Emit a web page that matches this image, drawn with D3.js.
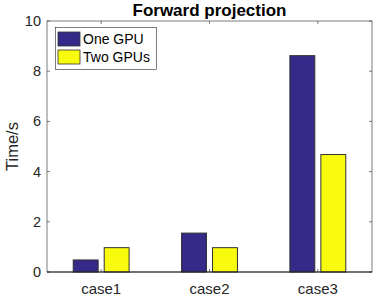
<!DOCTYPE html>
<html><head><meta charset="utf-8">
<script src="https://cdn.jsdelivr.net/npm/d3@7"></script>
<style>body{margin:0;background:#fff}svg{display:block}text{font-family:"Liberation Sans",Arial,sans-serif}</style>
</head><body>
<script>
const categories = ["case1","case2","case3"];
const seriesNames = ["One GPU","Two GPUs"];
const oneGPU = [0.48, 1.55, 8.62];
const twoGPUs = [0.97, 0.97, 4.68];
const yTicks = [0,2,4,6,8,10];
const colors = ["#352a87","#f9fb0e"];
const series = [oneGPU, twoGPUs];

const W=382,H=298;
const m={l:47,r:10,t:21,b:26};
const svg=d3.select("body").append("svg").attr("width",W).attr("height",H);
const x=d3.scaleLinear().domain([0.5,3.5]).range([m.l,W-m.r]);
const y=d3.scaleLinear().domain([0,10]).range([H-m.b,m.t]);
const bw=0.23, off=0.028+bw/2;

// bars
series.forEach((s,si)=>{
  svg.append("g").selectAll("rect").data(s).join("rect")
    .attr("x",(d,i)=>x(i+1+(si===0?-off:off)-bw/2))
    .attr("width",x(1+bw)-x(1))
    .attr("y",d=>y(d)).attr("height",d=>y(0)-y(d))
    .attr("fill",colors[si]).attr("stroke","#333").attr("stroke-width",1);
});

const ac="#262626";
// box
svg.append("rect").attr("x",x(0.5)).attr("y",y(10)).attr("width",x(3.5)-x(0.5)).attr("height",y(0)-y(10))
  .attr("fill","none").attr("stroke",ac).attr("stroke-width",0.6);
svg.append("line").attr("x1",x(0.5)).attr("x2",x(3.5)).attr("y1",y(0)).attr("y2",y(0)).attr("stroke",ac).attr("stroke-width",1);

// y ticks
const yt=svg.append("g");
yTicks.forEach(t=>{
  yt.append("line").attr("x1",x(0.5)).attr("x2",x(0.5)+3).attr("y1",y(t)).attr("y2",y(t)).attr("stroke",ac).attr("stroke-width",0.6);
  yt.append("line").attr("x1",x(3.5)).attr("x2",x(3.5)-3).attr("y1",y(t)).attr("y2",y(t)).attr("stroke",ac).attr("stroke-width",0.6);
  yt.append("text").attr("x",x(0.5)-6).attr("y",y(t)).attr("dy","0.35em").attr("text-anchor","end")
    .attr("font-size",14.5).attr("fill",ac).text(t);
});
// x ticks
categories.forEach((c,i)=>{
  svg.append("line").attr("x1",x(i+1)).attr("x2",x(i+1)).attr("y1",y(0)).attr("y2",y(0)-3).attr("stroke",ac).attr("stroke-width",0.6);
  svg.append("line").attr("x1",x(i+1)).attr("x2",x(i+1)).attr("y1",y(10)).attr("y2",y(10)+3).attr("stroke",ac).attr("stroke-width",0.6);
  svg.append("text").attr("x",x(i+1)).attr("y",y(0)+22).attr("text-anchor","middle")
    .attr("font-size",15).attr("fill",ac).text(c);
});

// y label
svg.append("text").attr("transform",`translate(18,${(y(0)+y(10))/2}) rotate(-90)`).attr("text-anchor","middle")
  .attr("font-size",16.5).attr("fill",ac).text("Time/s");
// title
svg.append("text").attr("x",(x(0.5)+x(3.5))/2).attr("y",15.5).attr("text-anchor","middle")
  .attr("font-size",17).attr("font-weight","bold").attr("fill","#000").text("Forward projection");

// legend
const lg=svg.append("g");
lg.append("rect").attr("x",55.5).attr("y",27.5).attr("width",101).attr("height",42).attr("fill","#fff").attr("stroke",ac).attr("stroke-width",0.6);
seriesNames.forEach((n,i)=>{
  lg.append("rect").attr("x",58).attr("y",32+i*18).attr("width",22).attr("height",14).attr("fill",colors[i]).attr("stroke","#333").attr("stroke-width",0.8);
  lg.append("text").attr("x",83).attr("y",39+i*18).attr("dy","0.35em").attr("font-size",14).attr("fill","#000").text(n);
});
</script>
</body></html>
